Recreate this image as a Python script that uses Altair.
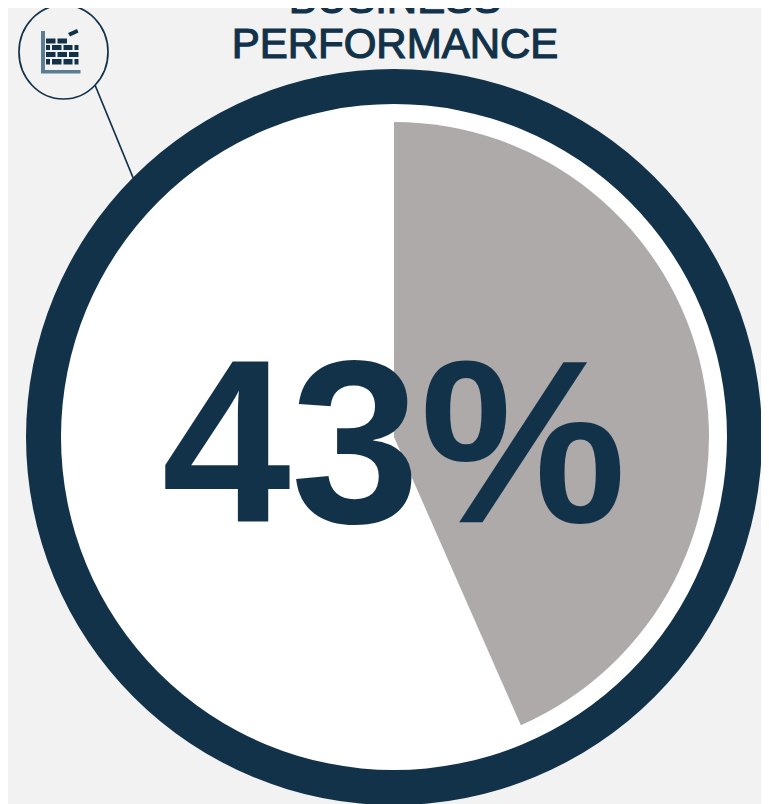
import altair as alt

# Chart values
share = [43.4]
slice_name = ["Business performance"]
full_scale = [0, 100]
big_label = ["43%"]
title_lines = ["BUSINESS", "PERFORMANCE"]

NAVY = "#12324a"
GREY = "#aeaaaa"
BG = "#f2f2f2"
OFF = 8  # page margin


def X(v):
    return alt.value(v - OFF)


def Y(v):
    return alt.value(v - OFF)


# icon glyph, in reference pixels
bricks = [
    (46, 38.5, 55.5, 43.5), (57.5, 38.5, 67, 43.5),
    (46, 45, 50, 50), (52, 45, 61.5, 50), (63.5, 45, 72.5, 50), (74.5, 45, 78.5, 50),
    (46, 52, 55.5, 57), (57.5, 52, 67, 57), (69, 52, 78.5, 57),
    (46, 59, 50, 64.5), (52, 59, 61.5, 64.5), (63.5, 59, 72.5, 64.5), (74.5, 59, 78.5, 64.5),
]
loose_brick = [(68, 33), (77, 29), (78.5, 32.5), (70, 36.5)]
axis_bars = [(41, 31, 45, 73.5), (41, 70, 80.5, 73.5)]
ICX, ICY, ICH = 60.5, 52, 22
TWO_PI = 6.28319
theta_scale = alt.Scale(domain=full_scale, range=[0, TWO_PI])


def poly(points):
    return "M" + "L".join(f"{(x-ICX)/ICH:.3f},{(y-ICY)/ICH:.3f}" for x, y in points) + "Z"


def rects(items):
    return "".join(poly([(a, b), (c, b), (c, d), (a, d)]) for a, b, c, d in items)


def ring(radius, colour):
    return alt.Chart(alt.Data(values=[{"share": full_scale[1]}])).mark_arc(
        radius=radius, radius2=0, fill=colour, stroke=None
    ).encode(x=X(394), y=Y(437), theta=alt.Theta("share:Q", stack=None, scale=theta_scale))


slice_layer = (
    alt.Chart(alt.Data(values=[{"name": n, "share": s} for n, s in zip(slice_name, share)]))
    .mark_arc(radius=315, radius2=0, fill=GREY, stroke=None)
    .encode(
        x=X(394),
        y=Y(437),
        theta=alt.Theta("share:Q", stack=None, scale=theta_scale),
    )
)

percent = (
    alt.Chart(alt.Data(values=[{"t": big_label[0]}]))
    .mark_text(font="Liberation Sans", fontWeight="bold", fontSize=232, color=NAVY,
               align="center", baseline="alphabetic")
    .encode(x=X(394), y=Y(522), text="t:N")
)

title_layers = [
    alt.Chart(alt.Data(values=[{"t": line}]))
    .mark_text(font="Liberation Sans", fontSize=42, fill=NAVY, stroke=NAVY, strokeWidth=1.2,
               align="center", baseline="alphabetic")
    .encode(x=X(395), y=Y(y), text="t:N")
    for line, y in zip(title_lines, [13, 57.5])
]

leader = (
    alt.Chart(alt.Data(values=[{"v": 1}]))
    .mark_rule(color=NAVY, strokeWidth=1.7)
    .encode(x=X(95), x2=X(134), y=Y(85), y2=Y(180))
)

badge = (
    alt.Chart(alt.Data(values=[{"v": 1}]))
    .mark_point(
        shape="M-0.947,0A0.947,1 0 1,1 0.947,0A0.947,1 0 1,1 -0.947,0Z",
        size=94 ** 2, filled=False, stroke=NAVY, strokeWidth=1.7, opacity=1,
    )
    .encode(x=X(63.5), y=Y(52))
)


def glyph(path, colour):
    return (
        alt.Chart(alt.Data(values=[{"v": 1}]))
        .mark_point(shape=path, size=(2 * ICH) ** 2, filled=True, fill=colour, stroke=None, opacity=1)
        .encode(x=X(ICX), y=Y(ICY))
    )


chart = alt.layer(
    leader,
    ring(368, NAVY),
    ring(333, "#ffffff"),
    slice_layer,
    percent,
    *title_layers,
    badge,
    glyph(rects(axis_bars), "#5b7c95"),
    glyph(rects(bricks) + poly(loose_brick), NAVY),
).properties(
    width=753,
    height=796,
    background=BG,
    padding=0,
    autosize=alt.AutoSizeParams(type="none"),
).configure_view(stroke=None)

chart.save("out.html", embed_options={"renderer": "svg", "actions": False})
